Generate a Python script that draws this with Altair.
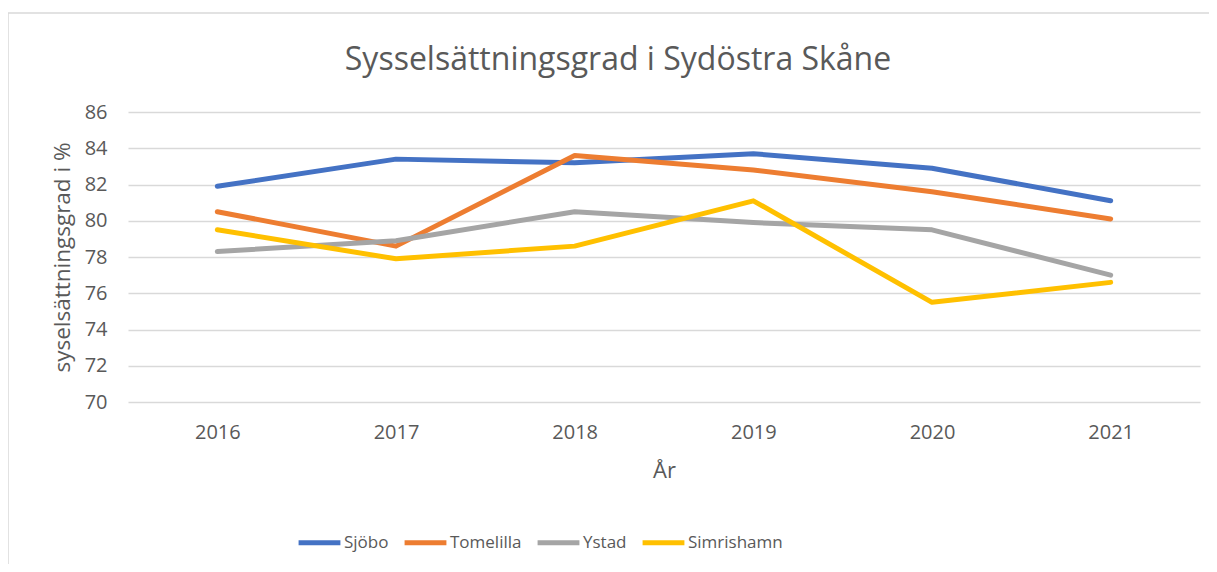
import altair as alt
import pandas as pd

years = ["2016", "2017", "2018", "2019", "2020", "2021"]
series_names = ["Sjöbo", "Tomelilla", "Ystad", "Simrishamn"]
sjobo = [81.9, 83.4, 83.2, 83.7, 82.9, 81.1]
tomelilla = [80.5, 78.6, 83.6, 82.8, 81.6, 80.1]
ystad = [78.3, 78.9, 80.5, 79.9, 79.5, 77.0]
simrishamn = [79.5, 77.9, 78.6, 81.1, 75.5, 76.6]
colors = ["#4472C4", "#ED7D31", "#A5A5A5", "#FFC000"]
y_ticks = [70, 72, 74, 76, 78, 80, 82, 84, 86]
title_text = "Sysselsättningsgrad i Sydöstra Skåne"

rows = []
for name, vals in zip(series_names, [sjobo, tomelilla, ystad, simrishamn]):
    for yr, v in zip(years, vals):
        rows.append({"År": yr, "Kommun": name, "Värde": v})
df = pd.DataFrame(rows)

FONT = "Open Sans"
TXT = "#595959"

lines = alt.Chart(df).mark_line(strokeWidth=5, strokeCap="round", strokeJoin="round").encode(
    x=alt.X("År:O", sort=years, scale=alt.Scale(type="point", padding=0.5),
            axis=alt.Axis(title="År", labelAngle=0, grid=False, domain=False, ticks=False,
                          labelPadding=20, titlePadding=18, labelFontSize=20, titleFontSize=22)),
    y=alt.Y("Värde:Q", scale=alt.Scale(domain=[70, 86], nice=False, zero=False),
            axis=alt.Axis(title="syselsättningsgrad i %", values=y_ticks, grid=True, domain=False,
                          ticks=False, labelPadding=21, titlePadding=10, labelFontSize=20,
                          titleFontSize=22.5, gridColor="#d9d9d9", gridWidth=1.3)),
    color=alt.Color("Kommun:N", sort=series_names,
                    scale=alt.Scale(domain=series_names, range=colors),
                    legend=alt.Legend(title=None, orient="none", direction="horizontal",
                                      legendX=168, legendY=407, symbolType="stroke",
                                      symbolSize=1750, symbolStrokeWidth=5,
                                      labelFontSize=17, labelOffset=1, columnPadding=5,
                                      labelColor=TXT, labelFont=FONT)),
    order=alt.Order("Kommun:N"),
)

border = alt.Chart(pd.DataFrame({"a": [0]})).mark_rect(
    fill="transparent", stroke="#d9d9d9", strokeWidth=1.5
).encode(x=alt.value(-120), x2=alt.value(1084), y=alt.value(-99), y2=alt.value(470))

title = alt.Chart(pd.DataFrame({"t": [title_text]})).mark_text(
    font=FONT, fontSize=32, color=TXT, align="center", baseline="middle"
).encode(text="t:N", x=alt.value(490), y=alt.value(-52))

chart = alt.layer(border, lines, title).properties(
    width=1072, height=290,
    autosize=alt.AutoSizeParams(type="none"),
    padding={"left": 120, "top": 104, "right": 9, "bottom": 162},
).configure_view(stroke=None).configure_axis(
    labelColor=TXT, titleColor=TXT, labelFont=FONT, titleFont=FONT, titleFontWeight="normal"
)

chart.save("out.html", embed_options={"renderer": "svg", "actions": False})
